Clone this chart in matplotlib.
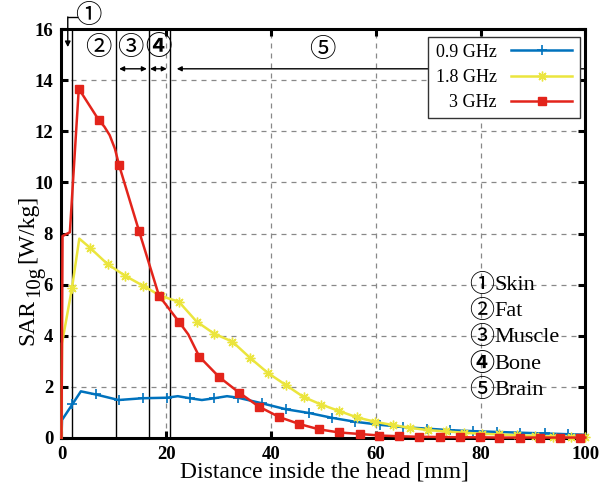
import matplotlib
matplotlib.use('Agg')
import matplotlib.pyplot as plt

plt.rcParams['font.family'] = ['Liberation Serif', 'Noto Sans CJK JP']

# SAR along the depth into the head, per frequency (True = marker drawn)
x_09 = [0, 0.1, 2.1, 3.7, 6.5, 10.9, 15.5, 20.1, 22.2, 24.5, 26.8, 29.2, 31.6, 33.7,
        38.3, 42.8, 47.3, 51.7, 56.0, 60.8, 65.2, 69.7, 74.1, 78.6, 83.1, 87.5,
        92.3, 96.7, 100]
y_09 = [0, 0.7, 1.32, 1.82, 1.70, 1.48, 1.55, 1.57, 1.63, 1.55, 1.48, 1.55, 1.63, 1.57,
        1.35, 1.12, 0.97, 0.78, 0.63, 0.51, 0.42, 0.36, 0.30, 0.26, 0.23, 0.20,
        0.17, 0.14, 0.12]
m_09 = [False, False, True, False, True, True, True, True, False, True, False, True, False, True,
        True, True, True, True, True, True, True, True, True, True, True, True,
        True, True, False]

x_18 = [0, 0.1, 2.0, 3.4, 5.4, 8.8, 12.2, 15.6, 19.0, 22.4, 25.8, 29.2, 32.6, 36.0,
        39.4, 42.8, 46.2, 49.6, 53.0, 56.4, 59.8, 63.2, 66.6, 70.0, 73.4, 76.8,
        80.2, 83.6, 87.0, 90.4, 93.8, 97.2, 100.0]
y_18 = [0, 3.7, 5.86, 7.8, 7.45, 6.8, 6.34, 5.95, 5.55, 5.33, 4.55, 4.07, 3.77, 3.13,
        2.54, 2.07, 1.6, 1.3, 1.05, 0.8, 0.63, 0.5, 0.39, 0.3, 0.25, 0.2,
        0.16, 0.13, 0.1, 0.07, 0.05, 0.04, 0.03]
m_18 = [False, False, True, False] + [True] * 29

x_3 = [0, 0.2, 1.6, 3.3, 7.1, 8.2, 9.2, 10.2, 11.0, 14.8, 18.6, 22.4, 24.2, 26.3, 30.1, 33.9,
       37.7, 41.6, 45.4, 49.2, 53.0, 56.9, 60.7, 64.5, 68.3, 72.2, 76.0, 79.8,
       83.6, 87.5, 91.3, 95.1, 98.9, 100]
y_3 = [0, 7.9, 8.05, 13.67, 12.45, 12.18, 11.85, 11.32, 10.67, 8.1, 5.57, 4.55, 4.05, 3.18,
       2.38, 1.77, 1.22, 0.81, 0.54, 0.33, 0.21, 0.15, 0.09, 0.06, 0.04, 0.03, 0.02, 0.02,
       0.01, 0.01, 0.01, 0.01, 0.01, 0.01]
m_3 = [False, False, False, True, True, False, False, False, True, True, True, True, False,
       True, True, True, True, True, True, True, True, True, True, True, True, True, True,
       True, True, True, True, True, True, False]

# tissue boundaries [mm]
bounds = [2.1, 10.4, 16.7, 20.8]
tissues = ['Skin', 'Fat', 'Muscle', 'Bone', 'Brain']
circled = ['\u2460', '\u2461', '\u2462', '\u2463', '\u2464']

fig = plt.figure(figsize=(6.01, 4.87), dpi=100)
ax = fig.add_axes([0.1023, 0.101, 0.8717, 0.839])

ax.plot(x_09, y_09, color='#0072bd', lw=1.8, marker='+', ms=7, mew=1.2,
        markevery=m_09, clip_on=False, label='0.9 GHz', zorder=3)
ax.plot(x_18, y_18, color='#ebe53d', lw=1.8, marker=(8, 2, 0), ms=7, mew=1.0,
        markevery=m_18, clip_on=False, label='1.8 GHz', zorder=3)
ax.plot(x_3, y_3, color='#e3241b', lw=1.8, marker='s', ms=5.8,
        markevery=m_3, clip_on=False, label='3 GHz', zorder=4)

for b in bounds:
    ax.axvline(b, color='black', lw=1.0, zorder=2)

ax.set_xlim(0, 100)
ax.set_ylim(0, 16)
ax.set_xticks([0, 20, 40, 60, 80, 100])
ax.set_yticks([0, 2, 4, 6, 8, 10, 12, 14, 16])
ax.grid(True, color='#888888', ls=(0, (4, 4)), lw=0.9)
ax.set_axisbelow(True)
ax.tick_params(direction='in', top=True, right=True, length=5, width=2.2,
               labelsize=13.5, pad=6)
for lab in ax.get_xticklabels() + ax.get_yticklabels():
    lab.set_fontweight('bold')
for s in ax.spines.values():
    s.set_linewidth(2.2)

ax.set_xlabel('Distance inside the head [mm]', fontsize=17)
ax.xaxis.set_label_coords(0.501, -0.084)
ax.xaxis.label.set_va('center')

# y label in pieces so the subscript stays large
px = lambda x, y: (x / 601, 1 - y / 487)
fig.text(*px(28, 322), 'SAR', fontsize=17, rotation=90, ha='center', va='center')
fig.text(*px(35, 281), '10g', fontsize=15, rotation=90, ha='center', va='center')
fig.text(*px(28, 229), '[W/kg]', fontsize=17, rotation=90, ha='center', va='center')

leg = ax.legend(loc='upper right', bbox_to_anchor=(0.989, 0.982), borderaxespad=0,
                markerfirst=False, fontsize=13, handlelength=3.4, labelspacing=0.45,
                fancybox=False, edgecolor='#333333', framealpha=1)
leg.get_frame().set_linewidth(1.0)

# region labels along the top
ax.text(5.06, 16.5, circled[0], fontsize=19, ha='center', va='center', clip_on=False)
ax.plot([2.9, 1.2], [16.46, 16.46], color='black', lw=1.0, clip_on=False)
ax.annotate('', xy=(1.2, 15.3), xytext=(1.2, 16.48),
            arrowprops=dict(arrowstyle='-|>', color='black', lw=1.0,
                            mutation_scale=8, shrinkA=0, shrinkB=0),
            annotation_clip=False)
ax.text(7.0, 15.28, circled[1], fontsize=19, ha='center', va='center')
ax.text(13.1, 15.28, circled[2], fontsize=19, ha='center', va='center')
ax.text(18.6, 15.28, circled[3], fontsize=19, ha='center', va='center', fontweight='bold')
ax.text(49.7, 15.2, circled[4], fontsize=19, ha='center', va='center')

arrow = dict(arrowstyle='<|-|>', color='black', lw=1.0, mutation_scale=7,
             shrinkA=0, shrinkB=0)
ax.annotate('', xy=(11.0, 14.45), xytext=(16.3, 14.45), arrowprops=arrow)
ax.annotate('', xy=(16.9, 14.45), xytext=(20.1, 14.45), arrowprops=arrow)
ax.annotate('', xy=(22.0, 14.45), xytext=(100, 14.45),
            arrowprops=dict(arrowstyle='-|>', color='black', lw=1.0, mutation_scale=7,
                            shrinkA=0, shrinkB=0))

# tissue key
for i, (c, t) in enumerate(zip(circled, tissues)):
    yk = 5.95 - i * 1.02
    ax.text(80.2, yk, c, fontsize=18, ha='center', va='center',
            fontweight='bold' if i == 3 else 'normal')
    ax.text(82.6, yk, t, fontsize=16, ha='left', va='center')

fig.savefig('out.png', dpi=100)
